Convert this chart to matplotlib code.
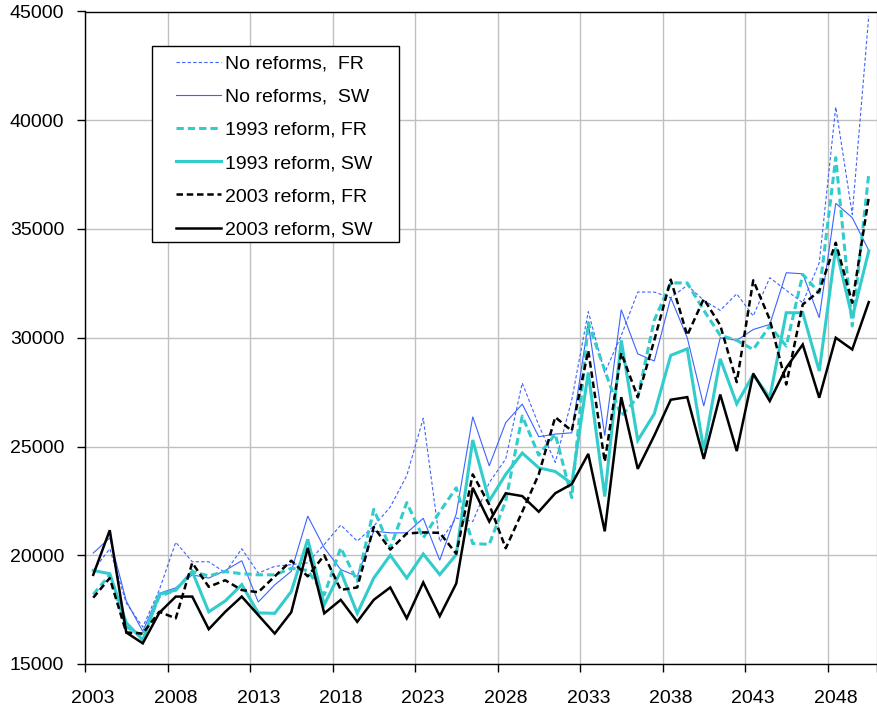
import matplotlib
matplotlib.use("Agg")
import matplotlib.pyplot as plt
import matplotlib.patches as mpatches
import numpy as np

plt.rcParams['font.family'] = ['Liberation Sans', 'DejaVu Sans']

years = list(range(2003, 2051))
tick_years = [2003, 2008, 2013, 2018, 2023, 2028, 2033, 2038, 2043, 2048]

noref_fr = [19300, 20300, 17800, 16700, 18400, 20600, 19700, 19700, 19200, 20300,
            19180, 19490, 19570, 19650, 20500, 21390, 20650, 21340, 22220, 23660,
            26300, 20620, 21710, 21550, 23340, 24430, 27920, 25980, 24270, 27140,
            31200, 28400, 30100, 32100, 32100, 31840, 32410, 31720, 31260, 32020,
            31000, 32760, 32180, 31610, 33450, 40610, 35670, 44800]
noref_sw = [20100, 20800, 17900, 16500, 18250, 18500, 19100, 18950, 19300, 19750,
            17850, 18640, 19260, 21800, 20340, 19340, 19030, 21110, 21030, 21030,
            21700, 19770, 21900, 26370, 24110, 26100, 26950, 25450, 25570, 25630,
            30680, 25500, 31290, 29260, 28930, 31840, 30000, 26860, 30000, 29880,
            30380, 30610, 32990, 32940, 30920, 36180, 35520, 34020]
r1993_fr = [18200, 19100, 16700, 16300, 18100, 18400, 19250, 19050, 19250, 19150,
            19100, 19100, 19400, 19300, 18180, 20340, 18800, 22110, 20340, 22420,
            20800, 22000, 23100, 20540, 20500, 22500, 26400, 24600, 25570, 22650,
            30700, 28500, 26400, 27270, 30800, 32520, 32520, 31260, 30110, 29880,
            29460, 30540, 29620, 32910, 32070, 38280, 30540, 37520]
r1993_sw = [19300, 19150, 16900, 16100, 18200, 18400, 19250, 17400, 17900, 18650,
            17350, 17330, 18330, 20730, 17720, 19260, 17330, 18950, 20000, 18950,
            20060, 19110, 20030, 25300, 22500, 23720, 24700, 24020, 23850, 23300,
            28400, 22700, 29880, 25280, 26500, 29190, 29490, 24820, 29030, 26960,
            28300, 27240, 31150, 31150, 28470, 34140, 30920, 33990]
r2003_fr = [18050, 18950, 16450, 16400, 17400, 17100, 19650, 18550, 18850, 18400,
            18300, 19030, 19750, 19030, 20000, 18410, 18520, 21300, 20260, 21000,
            21050, 21030, 20070, 23720, 22330, 20320, 22000, 23720, 26350, 25720,
            29410, 24300, 29300, 27270, 29880, 32670, 30110, 31790, 30570, 27960,
            32640, 30840, 27850, 31530, 32150, 34370, 31610, 36440]
r2003_sw = [19100, 21150, 16450, 15950, 17350, 18100, 18100, 16600, 17400, 18100,
            17250, 16400, 17380, 20340, 17330, 17950, 16940, 17950, 18520, 17100,
            18750, 17200, 18700, 23100, 21550, 22850, 22720, 22000, 22850, 23270,
            24660, 21100, 27270, 23970, 25500, 27150, 27270, 24430, 27390, 24790,
            28350, 27090, 28620, 29690, 27240, 30000, 29460, 31640]

labels = ["No reforms,  FR", "No reforms,  SW", "1993 reform, FR",
          "1993 reform, SW", "2003 reform, FR", "2003 reform, SW"]

W, H = 877, 709
fig = plt.figure(figsize=(W / 100, H / 100), dpi=100)
ax = fig.add_axes([85 / W, (H - 664) / H, (877 - 85) / W, (664 - 11.5) / H])

# category axis: points centred between boundaries
x0 = years[0]
xs = np.array(years) - x0 + 0.5

blue = '#3D63FF'
cyan = '#33CCCC'
series = [
    (noref_fr, dict(color=blue, lw=0.8, ls=(0, (3, 2)))),
    (noref_sw, dict(color=blue, lw=0.8, ls='-')),
    (r1993_fr, dict(color=cyan, lw=2.2, ls=(0, (2.4, 1.3)))),
    (r1993_sw, dict(color=cyan, lw=2.2, ls='-')),
    (r2003_fr, dict(color='black', lw=1.8, ls=(0, (2.6, 1.5)))),
    (r2003_sw, dict(color='black', lw=1.8, ls='-')),
]
handles = []
for (vals, st), lab in zip(series, labels):
    h, = ax.plot(xs, vals, label=lab, solid_joinstyle='miter', **st)
    handles.append(h)

ax.set_xlim(0, len(years))
ax.set_ylim(15000, 45000)
ax.set_yticks(np.arange(15000, 45001, 5000))
ax.set_xticks([y - x0 for y in tick_years] + [len(years)])
ax.set_xticklabels([])
ax.set_xticks([y - x0 + 0.5 for y in tick_years], minor=True)
ax.set_xticklabels([str(y) for y in tick_years], minor=True)
ax.tick_params(axis='x', which='minor', length=0, pad=19, labelsize=14)
ax.tick_params(axis='x', which='major', length=6, width=1, direction='out')
ax.tick_params(axis='y', length=6, width=1, direction='out', pad=9, labelsize=14)

ax.grid(True, which='major', color='#C0C0C0', lw=1.0)
ax.set_axisbelow(True)
for s in ['left', 'bottom', 'top']:
    ax.spines[s].set_color('black')
    ax.spines[s].set_linewidth(1.0)
ax.spines['right'].set_visible(False)

# legend box
rect = mpatches.Rectangle((152 / W, 1 - 242 / H), (399 - 152) / W, (242 - 46) / H,
                          transform=fig.transFigure, facecolor='white',
                          edgecolor='black', lw=1.0, zorder=3)
fig.add_artist(rect)
fig.legend(handles=handles, labels=labels, loc='upper left',
           bbox_to_anchor=(176 / W, 1 - 55 / H), frameon=False, borderpad=0,
           borderaxespad=0, fontsize=14, labelspacing=0.8, handlelength=2.3,
           handletextpad=0.2)

fig.savefig('out.png', dpi=100)
